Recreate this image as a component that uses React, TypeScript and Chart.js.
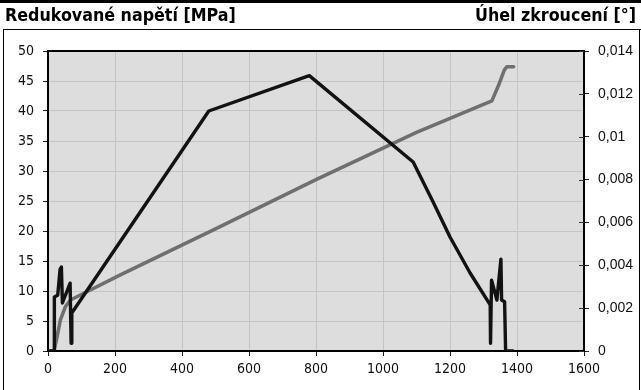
import { useEffect, useRef } from "react";
import { Chart, registerables } from "chart.js";

Chart.register(...registerables);

// Redukované napětí [MPa] (left axis)
const stressX = [0, 18, 19, 29, 36, 40, 43, 66, 69, 71, 73, 480, 780, 1090, 1150, 1200, 1260, 1320, 1321, 1324, 1340, 1352, 1354, 1363, 1366, 1388];
const stressY = [0, 0, 9, 9.3, 13.6, 14, 8, 11.3, 1.3, 6.5, 6.5, 40, 45.9, 31.5, 24.8, 19, 13, 7.7, 1.3, 11.8, 8.5, 15.3, 8.5, 8.2, 0, 0];

// Úhel zkroucení [°] (right axis)
const angleX = [0, 18, 25, 37, 52, 67, 216, 500, 800, 1100, 1325, 1345, 1362, 1370, 1390];
const angleY = [0, 0, 0.0005, 0.00145, 0.00207, 0.00238, 0.00355, 0.0057, 0.0080, 0.0102, 0.01167, 0.0124, 0.01311, 0.01327, 0.01327];

const xTicks = [0, 200, 400, 600, 800, 1000, 1200, 1400, 1600];
const leftTicks = [0, 5, 10, 15, 20, 25, 30, 35, 40, 45, 50];
const rightTicks = [0, 0.002, 0.004, 0.006, 0.008, 0.01, 0.012, 0.014];
const rightTickLabels = ["0", "0,002", "0,004", "0,006", "0,008", "0,01", "0,012", "0,014"];

const leftTitle = "Redukované napětí [MPa]";
const rightTitle = "Úhel zkroucení [°]";

export default function App() {
  const ref = useRef<HTMLCanvasElement | null>(null);

  useEffect(() => {
    document.body.style.margin = "0";
    const canvas = ref.current;
    if (!canvas) return;

    const bgPlugin = {
      id: "plotBg",
      beforeDraw(chart: any) {
        const { ctx, chartArea } = chart;
        ctx.save();
        ctx.fillStyle = "#dddddd";
        ctx.fillRect(chartArea.left, chartArea.top, chartArea.right - chartArea.left, chartArea.bottom - chartArea.top);
        ctx.restore();
      },
      afterDraw(chart: any) {
        const { ctx, chartArea } = chart;
        ctx.save();
        ctx.strokeStyle = "#000";
        ctx.lineWidth = 2;
        ctx.beginPath();
        ctx.moveTo(chartArea.left - 1, chartArea.top);
        ctx.lineTo(chartArea.right + 1, chartArea.top);
        ctx.stroke();
        // inner part of right axis tick marks
        const y1 = chart.scales.y1;
        ctx.lineWidth = 1;
        ctx.strokeStyle = "#333";
        for (const t of rightTicks) {
          const py = Math.round(y1.getPixelForValue(t)) + 0.5;
          ctx.beginPath();
          ctx.moveTo(chartArea.right - 5, py);
          ctx.lineTo(chartArea.right, py);
          ctx.stroke();
        }
        ctx.restore();
      },
    };

    const chart = new Chart(canvas, {
      type: "line",
      data: {
        datasets: [
          {
            label: leftTitle,
            data: stressX.map((x, i) => ({ x, y: stressY[i] })),
            borderColor: "#121212",
            borderWidth: 3.4,
            borderJoinStyle: "round",
            borderCapStyle: "round",
            pointRadius: 0,
            tension: 0,
            yAxisID: "y",
            order: 1,
          },
          {
            label: rightTitle,
            data: angleX.map((x, i) => ({ x, y: angleY[i] })),
            borderColor: "#6f6f6f",
            borderWidth: 3.5,
            borderJoinStyle: "round",
            borderCapStyle: "round",
            pointRadius: 0,
            tension: 0,
            yAxisID: "y1",
            order: 2,
          },
        ],
      },
      options: {
        animation: false,
        responsive: false,
        layout: { padding: { top: 51, left: 0, right: 0, bottom: 0 } },
        plugins: { legend: { display: false }, tooltip: { enabled: false } },
        scales: {
          x: {
            type: "linear",
            min: 0,
            max: 1600,
            afterFit(s: any) { s.height = 39; },
            afterBuildTicks(s: any) { s.ticks = xTicks.map((v) => ({ value: v })); },
            ticks: {
              padding: 5,
              color: "#111",
              font: { family: "'DejaVu Sans Condensed', 'DejaVu Sans'", size: 14 },
              callback: (v: any) => String(v),
              maxRotation: 0,
            },
            grid: { color: "#c4c4c4", lineWidth: 1, tickLength: 5, tickColor: "#222" },
            border: { display: true, color: "#000", width: 2 },
          },
          y: {
            type: "linear",
            position: "left",
            min: 0,
            max: 50,
            afterFit(s: any) { s.width = 48; },
            afterBuildTicks(s: any) { s.ticks = leftTicks.map((v) => ({ value: v })); },
            ticks: {
              padding: 9,
              color: "#111",
              font: { family: "'DejaVu Sans Condensed', 'DejaVu Sans'", size: 14 },
              callback: (v: any) => String(v),
            },
            grid: { color: "#c4c4c4", lineWidth: 1, tickLength: 5, tickColor: "#222" },
            border: { display: true, color: "#000", width: 2 },
          },
          y1: {
            type: "linear",
            position: "right",
            min: 0,
            max: 0.014,
            afterFit(s: any) { s.width = 57; },
            afterBuildTicks(s: any) { s.ticks = rightTicks.map((v) => ({ value: v })); },
            ticks: {
              padding: 9,
              color: "#111",
              font: { family: "'Liberation Sans', Arial", size: 14 },
              callback: (v: any) => {
                const i = rightTicks.findIndex((t) => Math.abs(t - v) < 1e-9);
                return i >= 0 ? rightTickLabels[i] : "";
              },
            },
            grid: { drawOnChartArea: false, tickLength: 5, tickColor: "#222" },
            border: { display: true, color: "#000", width: 2 },
          },
        },
      },
      plugins: [bgPlugin],
    } as any);

    return () => chart.destroy();
  }, []);

  const titleFont = "'DejaVu Sans Condensed', 'DejaVu Sans', sans-serif";
  const titleStyle: any = {
    position: "absolute",
    top: 5,
    fontFamily: titleFont,
    fontWeight: "bold",
    fontSize: 17.7,
    lineHeight: "21px",
    color: "#000",
    whiteSpace: "nowrap",
  };

  return (
    <div style={{ position: "relative", width: 641, height: 390, background: "#fff", overflow: "hidden" }}>
      <canvas ref={ref} width={641} height={390} style={{ position: "absolute", left: 0, top: 0, width: 641, height: 390 }} />
      <div style={{ position: "absolute", left: 0, top: 0, width: 641, height: 3, background: "#000" }} />
      <div style={{ ...titleStyle, left: 5 }}>{leftTitle}</div>
      <div style={{ ...titleStyle, right: 5 }}>{rightTitle}</div>
      <div style={{ position: "absolute", left: 3, top: 29, width: 641, height: 1, background: "#000" }} />
      <div style={{ position: "absolute", left: 3, top: 29, width: 1, height: 361, background: "#000" }} />
      <div style={{ position: "absolute", left: 639, top: 29, width: 1, height: 361, background: "#000" }} />
    </div>
  );
}
